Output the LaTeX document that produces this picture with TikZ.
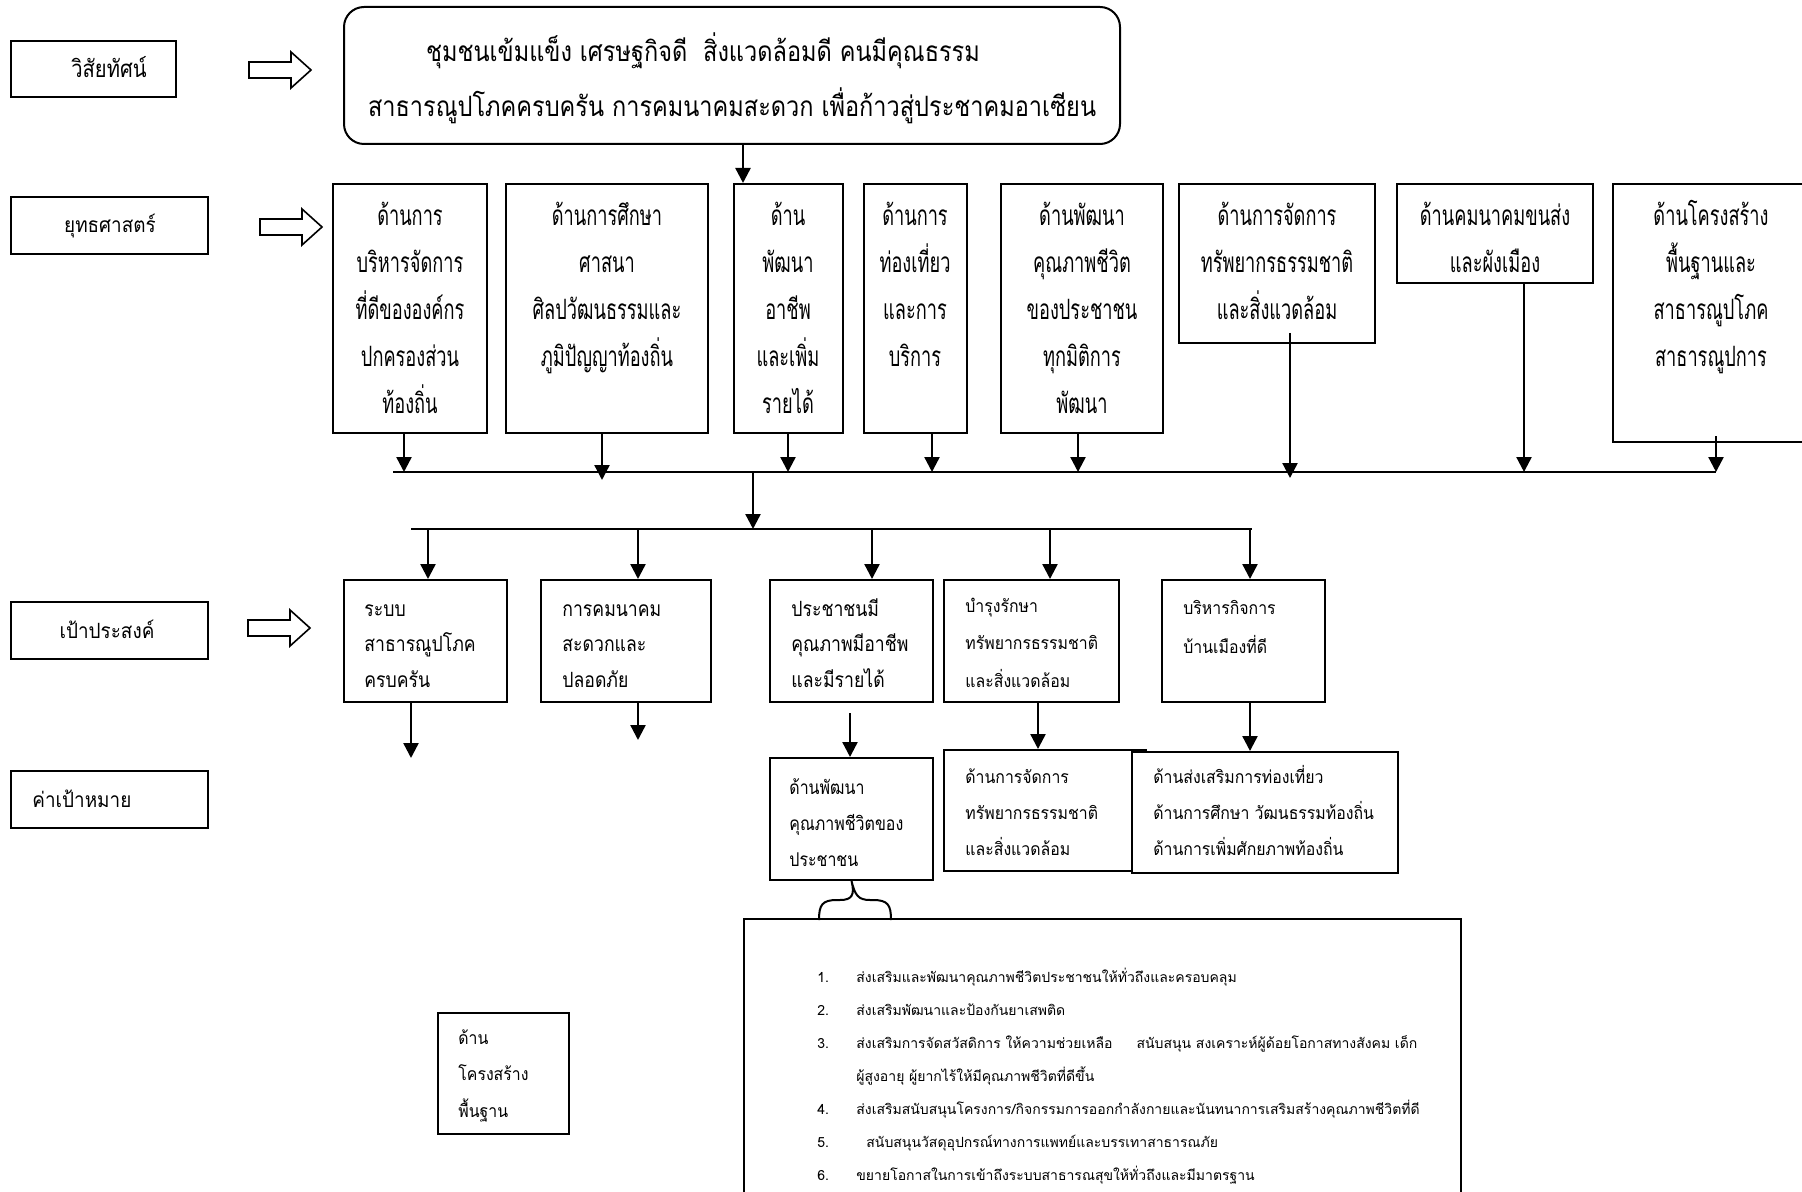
\documentclass[tikz,border=0pt]{standalone}
\usepackage{fontspec}
\newfontfamily\thaic[Script=Thai,FakeStretch=0.65]{Loma}
\newfontfamily\thaiv[Script=Thai,FakeStretch=0.84]{Loma}
\newfontfamily\thail[Script=Thai,FakeStretch=0.9]{Loma}
\newfontfamily\thai[Script=Thai]{Loma}
\usetikzlibrary{arrows.meta,fit,calc}

\newcommand\ctab[1]{\begin{tabular}[t]{@{}c@{}}#1\end{tabular}}
\newcommand\ltab[1]{\begin{tabular}[t]{@{}l@{}}#1\end{tabular}}
\newcommand\hollowarrow[2]{%
  \draw[line width=0.8pt] (#1,#2) ++(0,-8) -- ++(42,0) -- ++(0,-10) -- ++(20,18)
    -- ++(-20,18) -- ++(0,-10) -- ++(-42,0) -- cycle;}

\begin{document}
\begin{tikzpicture}[x=0.5pt, y=-0.5pt, line join=miter]

  \tikzstyle{box}=[draw, line width=1pt, inner sep=0pt, fill=white]
  \tikzstyle{bus}=[line width=1.2pt]
  \tikzstyle{arr}=[line width=1.2pt, -{Triangle[length=7.5pt,width=7.5pt]}]
  \tikzstyle{lab}=[font=\thail\fontsize{10.5}{13}\selectfont, inner sep=0pt]
  \tikzstyle{ctext}=[font=\thaic\fontsize{14}{23.4}\selectfont, inner sep=0pt, anchor=base]
  \tikzstyle{vtext}=[font=\thaiv\fontsize{14}{27.5}\selectfont, inner sep=0pt, anchor=base]
  \tikzstyle{gtext}=[font=\thaiv\fontsize{10.5}{17.8}\selectfont, inner sep=0pt, anchor=base west]
  \tikzstyle{ttext}=[font=\thail\fontsize{8.8}{18.5}\selectfont, inner sep=0pt, anchor=base west]

  \useasboundingbox (0,0) rectangle (1802,1192);
  \fill[white] (0,0) rectangle (1802,1192);

  % left column
  \node[box, fit={(11,41) (176,97)}] (l1) {};
  \node[box, fit={(11,197) (208,254)}] (l2) {};
  \node[box, fit={(11,602) (208,659)}] (l3) {};
  \node[box, fit={(11,771) (208,828)}] (l4) {};
  \node[lab, font=\thaiv\fontsize{12}{14}\selectfont, anchor=base] (l1t) at (109,78) {วิสัยทัศน์};
  \node[lab, anchor=base] (l2t) at (110,233) {ยุทธศาสตร์};
  \node[lab, anchor=base] (l3t) at (107,638) {เป้าประสงค์};
  \node[lab, anchor=base west] (l4t) at (32,807) {ค่าเป้าหมาย};
  \hollowarrow{249}{70}
  \hollowarrow{260}{227}
  \hollowarrow{248}{628}

  % vision
  \node[box, rounded corners=10pt, fit={(344,7) (1120,144)}] (vis) {};
  \node[vtext] (vist) at (732,62) {\ctab{ชุมชนเข้มแข็ง เศรษฐกิจดี\ \ สิ่งแวดล้อมดี คนมีคุณธรรม\hspace*{29pt}\\
    สาธารณูปโภคครบครัน การคมนาคมสะดวก เพื่อก้าวสู่ประชาคมอาเซียน}};

  % strategies
  \node[box, fit={(333,184) (487,433)}] (s1) {};
  \node[box, fit={(506,184) (708,433)}] (s2) {};
  \node[box, fit={(734,184) (843,433)}] (s3) {};
  \node[box, fit={(864,184) (967,433)}] (s4) {};
  \node[box, fit={(1001,184) (1163,433)}] (s5) {};
  \node[box, fit={(1179,184) (1375,343)}] (s6) {};
  \node[box, fit={(1397,184) (1593,283)}] (s7) {};
  \node[box, fit={(1613,184) (1810,442)}] (s8) {};
  \node[ctext] (s1t) at (410,226) {\ctab{ด้านการ\\บริหารจัดการ\\ที่ดีขององค์กร\\ปกครองส่วน\\ท้องถิ่น}};
  \node[ctext] (s2t) at (607,226) {\ctab{ด้านการศึกษา\\ศาสนา\\ศิลปวัฒนธรรมและ\\ภูมิปัญญาท้องถิ่น}};
  \node[ctext] (s3t) at (788,226) {\ctab{ด้าน\\พัฒนา\\อาชีพ\\และเพิ่ม\\รายได้}};
  \node[ctext] (s4t) at (915,226) {\ctab{ด้านการ\\ท่องเที่ยว\\และการ\\บริการ}};
  \node[ctext] (s5t) at (1082,226) {\ctab{ด้านพัฒนา\\คุณภาพชีวิต\\ของประชาชน\\ทุกมิติการ\\พัฒนา}};
  \node[ctext] (s6t) at (1277,226) {\ctab{ด้านการจัดการ\\ทรัพยากรธรรมชาติ\\และสิ่งแวดล้อม}};
  \node[ctext] (s7t) at (1495,226) {\ctab{ด้านคมนาคมขนส่ง\\และผังเมือง}};
  \node[ctext] (s8t) at (1711,226) {\ctab{ด้านโครงสร้าง\\พื้นฐานและ\\สาธารณูปโภค\\สาธารณูปการ}};

  \coordinate (v) at (743,0);
  \draw[arr] (vis.south -| v) -- (s3.north -| v);

  \coordinate (bl) at (393,472);
  \coordinate (br) at (1716,472);
  \coordinate (b1) at (404,472);
  \coordinate (b2) at (602,480);
  \coordinate (b3) at (788,472);
  \coordinate (b4) at (932,472);
  \coordinate (b5) at (1078,472);
  \coordinate (b6) at (1290,478);
  \coordinate (b7) at (1524,472);
  \coordinate (b8) at (1716,472);
  \draw[bus] (bl) -- (br);
  \draw[arr] (s1.south -| b1) -- (b1);
  \draw[arr] (s2.south -| b2) -- (b2);
  \draw[arr] (s3.south -| b3) -- (b3);
  \draw[arr] (s4.south -| b4) -- (b4);
  \draw[arr] (s5.south -| b5) -- (b5);
  \draw[arr] ($(s6.south -| b6)+(0,-11)$) -- (b6);
  \draw[arr] (s7.south -| b7) -- (b7);
  \draw[arr] ($(s8.south -| b8)+(0,-7)$) -- (b8);

  \coordinate (c1) at (753,472);
  \coordinate (c2) at (753,529);
  \draw[arr] (c1) -- (c2);

  % goals
  \node[box, fit={(344,580) (507,702)}] (g1) {};
  \node[box, fit={(541,580) (711,702)}] (g2) {};
  \node[box, fit={(770,580) (933,702)}] (g3) {};
  \node[box, fit={(944,580) (1119,702)}] (g4) {};
  \node[box, fit={(1162,580) (1325,702)}] (g5) {};
  \node[gtext] (g1t) at (364,616) {\ltab{ระบบ\\สาธารณูปโภค\\ครบครัน}};
  \node[gtext] (g2t) at (562,616) {\ltab{การคมนาคม\\สะดวกและ\\ปลอดภัย}};
  \node[gtext] (g3t) at (791,616) {\ltab{ประชาชนมี\\คุณภาพมีอาชีพ\\และมีรายได้}};
  \node[ttext, font=\thail\fontsize{8.8}{18.75}\selectfont] (g4t) at (965,612) {\ltab{บำรุงรักษา\\ทรัพยากรธรรมชาติ\\และสิ่งแวดล้อม}};
  \node[ttext, font=\thail\fontsize{8.8}{19.5}\selectfont] (g5t) at (1183,614) {\ltab{บริหารกิจการ\\บ้านเมืองที่ดี}};

  \coordinate (dl) at (411,529);
  \coordinate (dr) at (1252,529);
  \coordinate (d1) at (428,529);
  \coordinate (d2) at (638,529);
  \coordinate (d3) at (872,529);
  \coordinate (d4) at (1050,529);
  \coordinate (d5) at (1250,529);
  \draw[bus] (dl) -- (dr);
  \draw[arr] (d1) -- (d1 |- g1.north);
  \draw[arr] (d2) -- (d2 |- g2.north);
  \draw[arr] (d3) -- (d3 |- g3.north);
  \draw[arr] (d4) -- (d4 |- g4.north);
  \draw[arr] (d5) -- (d5 |- g5.north);

  % targets
  \node[box, fit={(770,758) (933,880)}] (t1) {};
  \node[box, fit={(944,750) (1146,871)}] (t2) {};
  \node[box, fit={(1132,752) (1398,873)}] (t3) {};
  \node[gtext, font=\thaiv\fontsize{9.5}{18}\selectfont] (t1t) at (789,794) {\ltab{ด้านพัฒนา\\คุณภาพชีวิตของ\\ประชาชน}};
  \node[ttext, font=\thail\fontsize{8.8}{18}\selectfont] (t2t) at (965,783) {\ltab{ด้านการจัดการ\\ทรัพยากรธรรมชาติ\\และสิ่งแวดล้อม}};
  \node[ttext, font=\thail\fontsize{8.8}{18}\selectfont] (t3t) at (1153,783) {\ltab{ด้านส่งเสริมการท่องเที่ยว\\ด้านการศึกษา วัฒนธรรมท้องถิ่น\\ด้านการเพิ่มศักยภาพท้องถิ่น}};

  \coordinate (e1) at (411,758);
  \coordinate (e2) at (638,740);
  \coordinate (e3) at (850,0);
  \coordinate (e4) at (1038,0);
  \coordinate (e5) at (1250,0);
  \draw[arr] (g1.south -| e1) -- (e1);
  \draw[arr] (g2.south -| e2) -- (e2);
  \draw[arr] ($(g3.south -| e3)+(0,10)$) -- (t1.north -| e3);
  \draw[arr] (g4.south -| e4) -- (t2.north -| e4);
  \draw[arr] (g5.south -| e5) -- (t3.north -| e5);

  % list
  \node[box, fit={(744,919) (1461,1230)}] (list) {};
  \draw[line width=1pt] (819,920) .. controls (819,905) and (822,900) .. (837,900)
    -- (840,900) .. controls (852,900) and (855,895) .. (t1.south)
    .. controls (855,895) and (858,900) .. (870,900) -- (873,900)
    .. controls (888,900) and (891,905) .. (891,920);
  \node[font=\thai\fontsize{7}{16.5}\selectfont, inner sep=0pt, anchor=base west] (listt) at (817,982) {%
    \begin{tabular}[t]{@{}p{19.5pt}@{}l@{}}
      1. & ส่งเสริมและพัฒนาคุณภาพชีวิตประชาชนให้ทั่วถึงและครอบคลุม\\
      2. & ส่งเสริมพัฒนาและป้องกันยาเสพติด\\
      3. & ส่งเสริมการจัดสวัสดิการ ให้ความช่วยเหลือ\hspace{12pt}สนับสนุน สงเคราะห์ผู้ด้อยโอกาสทางสังคม เด็ก\\
         & ผู้สูงอายุ ผู้ยากไร้ให้มีคุณภาพชีวิตที่ดีขึ้น\\
      4. & ส่งเสริมสนับสนุนโครงการ/กิจกรรมการออกกำลังกายและนันทนาการเสริมสร้างคุณภาพชีวิตที่ดี\\
      5. & \hspace{5pt}สนับสนุนวัสดุอุปกรณ์ทางการแพทย์และบรรเทาสาธารณภัย\\
      6. & ขยายโอกาสในการเข้าถึงระบบสาธารณสุขให้ทั่วถึงและมีมาตรฐาน
    \end{tabular}};

  \node[box, fit={(438,1013) (569,1134)}] (inf) {};
  \node[ttext, font=\thail\fontsize{8.8}{18.25}\selectfont] (inft) at (458,1044) {\ltab{ด้าน\\โครงสร้าง\\พื้นฐาน}};

\end{tikzpicture}
\end{document}
